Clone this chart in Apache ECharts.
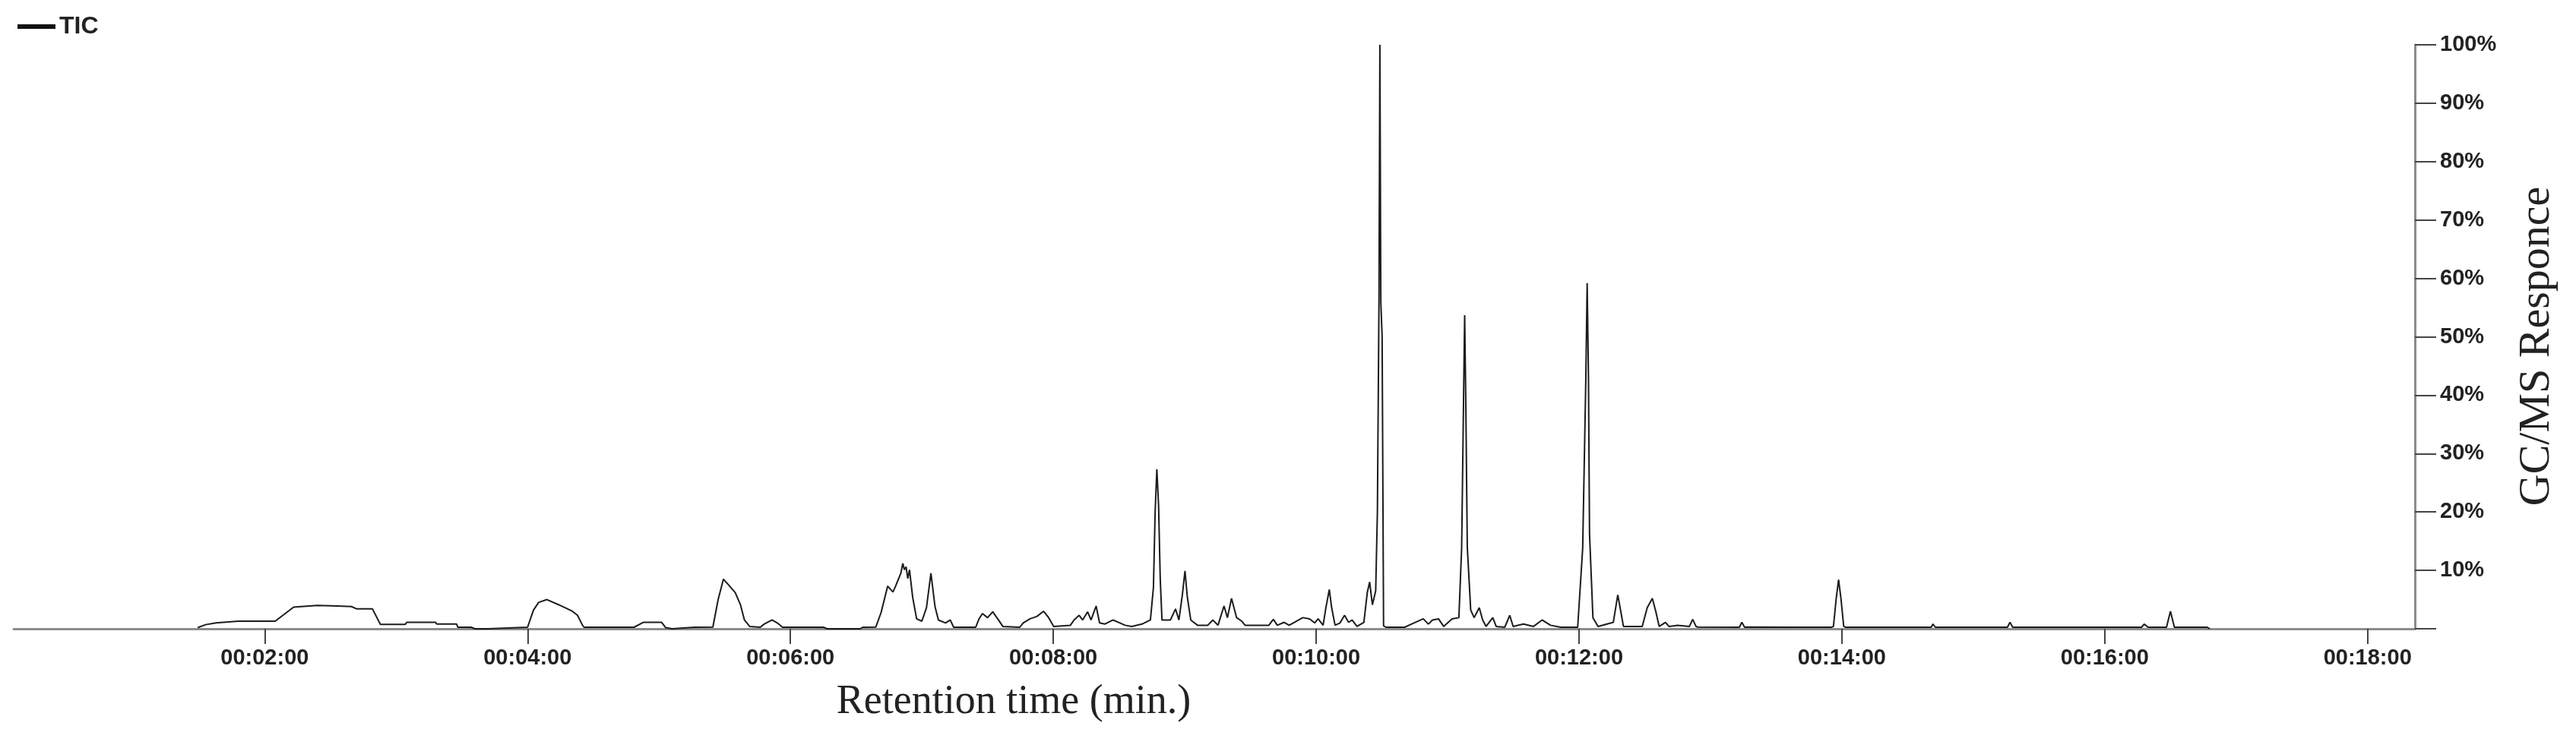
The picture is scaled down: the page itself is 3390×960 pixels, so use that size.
<!DOCTYPE html>
<html>
<head>
<meta charset="utf-8">
<title>TIC</title>
<script src="https://cdn.jsdelivr.net/npm/echarts@6.0.0/dist/echarts.min.js"></script>
<style>
  html, body { margin: 0; padding: 0; background: #fff; }
  #tic { width: 3390px; height: 960px; }
</style>
</head>
<body>
<div id="tic"></div>
<script>
// retention time (min.)
var retentionTime = [
  1.49, 1.55, 1.63, 1.80, 2.08, 2.22, 2.40, 2.55, 2.66, 2.70, 2.82, 2.88, 3.07, 3.08, 3.30, 3.31, 3.46, 3.47, 3.57, 3.60, 3.70, 3.71,
  4.00, 4.045, 4.084, 4.147, 4.238, 4.341, 4.380, 4.418, 4.43, 4.81, 4.88, 5.02, 5.05, 5.10,
  5.27, 5.41, 5.45, 5.49, 5.53, 5.58, 5.62, 5.65, 5.69, 5.77, 5.80, 5.86, 5.90, 5.94, 6.25, 6.28, 6.53, 6.55,
  6.65, 6.69, 6.74, 6.78, 6.80, 6.84, 6.855, 6.867, 6.88, 6.893, 6.906, 6.93, 6.96, 7.00, 7.035, 7.069, 7.10, 7.126,
  7.18, 7.216, 7.242, 7.41, 7.435, 7.461, 7.50, 7.539, 7.577, 7.616, 7.745, 7.771, 7.823, 7.874, 7.926, 7.965, 8.003,
  8.13, 8.158, 8.197, 8.223, 8.261, 8.287, 8.326, 8.352, 8.391, 8.455, 8.507, 8.546, 8.597, 8.675, 8.739,
  8.762, 8.775, 8.788, 8.801, 8.814, 8.827, 8.891, 8.930, 8.956, 8.982, 9.002, 9.020, 9.046, 9.098, 9.175,
  9.214, 9.253, 9.299, 9.325, 9.356, 9.395, 9.434, 9.459, 9.640, 9.674, 9.705, 9.756, 9.795, 9.898, 9.950,
  9.989, 10.015, 10.053, 10.074, 10.100, 10.118, 10.144, 10.182, 10.216, 10.247, 10.273, 10.311, 10.363,
  10.389, 10.407, 10.428, 10.453, 10.466, 10.478, 10.485, 10.492, 10.502, 10.513, 10.531, 10.673, 10.725,
  10.815, 10.854, 10.885, 10.931, 10.970, 11.034, 11.086, 11.107, 11.122, 11.130, 11.138, 11.150, 11.176,
  11.202, 11.241, 11.267, 11.293, 11.344, 11.370, 11.435, 11.473, 11.499, 11.577, 11.654, 11.719, 11.783,
  11.861, 11.990, 12.028, 12.052, 12.062, 12.072, 12.080, 12.106, 12.145, 12.261, 12.295, 12.320, 12.338,
  12.481, 12.519, 12.558, 12.584, 12.610, 12.658, 12.684, 12.75, 12.84, 12.865, 12.89, 12.904, 13.22, 13.239,
  13.26, 13.278, 13.678, 13.92, 13.936, 13.957, 13.975, 13.993, 14.014, 14.03, 14.68, 14.693, 14.711, 15.26,
  15.279, 15.30, 15.32, 16.28, 16.30, 16.33, 16.47, 16.50, 16.53, 16.68, 16.78, 16.80
];
// GC/MS response (% of largest peak)
var response = [
  0.2, 0.7, 1.0, 1.3, 1.3, 3.7, 4.0, 3.9, 3.8, 3.4, 3.4, 0.75, 0.75, 1.1, 1.1, 0.8, 0.8, 0.26, 0.26, 0, 0, 0.26,
  0.26, 3.2, 4.5, 5.0, 4.1, 3.0, 2.3, 0.6, 0.26, 0.26, 1.1, 1.1, 0.2, 0,
  0.26, 0.3, 5.0, 8.5, 7.5, 6.2, 4.1, 1.5, 0.4, 0.26, 0.8, 1.5, 1.0, 0.26, 0.26, 0, 0, 0.26,
  0.3, 2.8, 7.3, 6.3, 7.3, 9.5, 11.2, 10.1, 10.6, 8.6, 10.1, 5.4, 1.7, 1.3, 3.6, 9.5, 3.8, 1.5,
  1.0, 1.5, 0.26, 0.26, 1.7, 2.6, 1.9, 2.9, 1.7, 0.4, 0.26, 1.0, 1.7, 2.1, 3.0, 1.9, 0.4,
  0.6, 1.5, 2.3, 1.5, 2.9, 1.5, 3.9, 1.0, 0.8, 1.5, 1.0, 0.6, 0.4, 0.8, 1.5,
  7.1, 20.1, 27.3, 21.2, 8.4, 1.5, 1.5, 3.4, 1.5, 5.8, 9.9, 5.4, 1.5, 0.6, 0.6,
  1.5, 0.6, 3.9, 1.9, 5.2, 1.9, 1.3, 0.6, 0.6, 1.6, 0.6, 1.1, 0.6, 1.9, 1.7,
  1.0, 1.7, 0.6, 3.6, 6.7, 3.6, 0.6, 1.0, 2.3, 1.1, 1.5, 0.4, 1.1,
  6.2, 8.0, 4.1, 6.5, 20, 56, 100, 56, 50, 0.5, 0.26, 0.26, 0.8,
  1.7, 0.8, 1.5, 1.7, 0.4, 1.7, 1.9, 13.8, 40, 53.7, 40, 14, 3.2,
  1.9, 3.6, 1.5, 0.4, 1.9, 0.4, 0.26, 2.3, 0.4, 0.8, 0.4, 1.5, 0.6,
  0.26, 0.26, 13.8, 43, 59.2, 43, 16.3, 1.9, 0.4, 1.1, 5.8, 2.7, 0.4,
  0.4, 3.6, 5.2, 3.0, 0.4, 1.1, 0.4, 0.6, 0.4, 1.6, 0.4, 0.3, 0.26, 1.1,
  0.26, 0.3, 0.26, 0.26, 0.4, 5.2, 8.4, 5.2, 0.4, 0.26, 0.26, 0.8, 0.26, 0.26,
  1.1, 0.26, 0.26, 0.26, 0.8, 0.26, 0.26, 3.0, 0.26, 0.26, 0.26, 0
];
// tick labels
var xTickMinutes = [2, 4, 6, 8, 10, 12, 14, 16, 18];
var yTickStep = 10;

function pad2(n) {
  return (n < 10 ? '0' : '') + n;
}

var points = retentionTime.map(function (t, i) {
  return [t, response[i]];
});

var chart = echarts.init(document.getElementById('tic'));
var option = {
  backgroundColor: '#ffffff',
  animation: false,
  legend: {
    data: ['TIC'],
    left: 18,
    top: 14,
    icon: 'rect',
    itemWidth: 50,
    itemHeight: 6,
    itemGap: 6,
    textStyle: {
      fontFamily: 'Liberation Sans',
      fontWeight: 'bold',
      fontSize: 32,
      color: '#222'
    }
  },
  grid: {
    left: 18,
    right: 212,
    top: 59,
    bottom: 132
  },
  xAxis: {
    type: 'value',
    min: 0.09,
    max: 18.36,
    name: 'Retention time (min.)',
    nameLocation: 'middle',
    nameGap: 70,
    nameTextStyle: {
      fontFamily: 'Liberation Serif',
      fontSize: 54,
      color: '#222',
      padding: [0, 528, 0, 0]
    },
    axisLine: {
      lineStyle: { color: '#8c8c8c', width: 3 }
    },
    axisTick: {
      customValues: xTickMinutes,
      length: 20,
      lineStyle: { color: '#444', width: 2 }
    },
    axisLabel: {
      customValues: xTickMinutes,
      margin: 24,
      fontFamily: 'Liberation Sans',
      fontWeight: 'bold',
      fontSize: 29,
      color: '#222',
      formatter: function (v) {
        return '00:' + pad2(Math.round(v)) + ':00';
      }
    },
    splitLine: { show: false }
  },
  yAxis: {
    type: 'value',
    position: 'right',
    min: 0,
    max: 100,
    interval: yTickStep,
    name: 'GC/MS Responce',
    nameLocation: 'middle',
    nameRotate: 90,
    nameGap: 132,
    nameTextStyle: {
      fontFamily: 'Liberation Serif',
      fontSize: 58,
      color: '#222',
      padding: [0, 25, 0, 0]
    },
    axisLine: {
      show: true,
      lineStyle: { color: '#8c8c8c', width: 3 }
    },
    axisTick: {
      show: true,
      length: 28,
      lineStyle: { color: '#444', width: 2 }
    },
    axisLabel: {
      margin: 33,
      fontFamily: 'Liberation Sans',
      fontWeight: 'bold',
      fontSize: 29,
      color: '#222',
      formatter: function (v) {
        return v === 0 ? '' : v + '%';
      }
    },
    splitLine: { show: false }
  },
  series: [
    {
      name: 'TIC',
      type: 'line',
      data: points,
      showSymbol: false,
      symbol: 'none',
      color: '#111',
      lineStyle: { color: '#1c1c1c', width: 2 }
    }
  ]
};
chart.setOption(option);
</script>
</body>
</html>
